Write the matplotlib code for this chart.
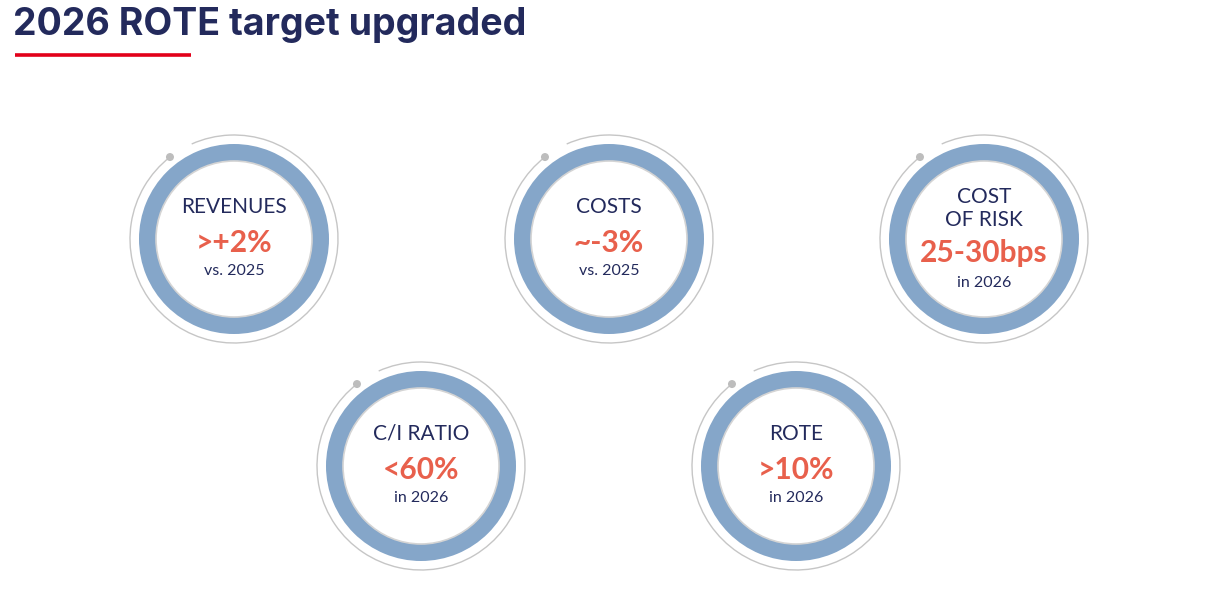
import math

import matplotlib.pyplot as plt
from matplotlib.patches import Arc, Circle, Wedge

W, H = 1211, 598

title = "2026 ROTE target upgraded"
labels = ["REVENUES", "COSTS", "COST\nOF RISK", "C/I RATIO", "ROTE"]
values = [">+2%", "~-3%", "25-30bps", "<60%", ">10%"]
subtitles = ["vs. 2025", "vs. 2025", "in 2026", "in 2026", "in 2026"]

NAVY = "#232a5c"
RED = "#e2001a"
BLUE = "#85a6c9"
ORANGE = "#e8604c"
GREY = "#c6c6c6"

# layout: three circles on top row, two offset on the bottom row
step = 375
row1_x, row1_y = 234, 239
row2_x, row2_y = 421, 466
centers = [(row1_x + i * step, row1_y) for i in range(3)]
centers += [(row2_x + i * step, row2_y) for i in range(2)]

fig = plt.figure(figsize=(W / 100, H / 100), dpi=100)
ax = fig.add_axes([0, 0, 1, 1])
ax.set_xlim(0, W)
ax.set_ylim(H, 0)
ax.set_aspect("equal")
ax.axis("off")

ax.text(13, 25, title, fontsize=27, fontweight="bold", color=NAVY,
        family="Inter", va="center", ha="left")
ax.plot([15, 191], [55, 55], color=RED, lw=2.6, solid_capstyle="butt")


def badge(ax, cx, cy, label, value, sub):
    # thin outer arc, gap at top left between 114 and 128 degrees on screen
    # (y axis is flipped, so screen angles become negative)
    ax.add_patch(Arc((cx, cy), 208, 208, theta1=360 - 114, theta2=720 - 128,
                     color=GREY, lw=1.0))
    ax.add_patch(Wedge((cx, cy), 95, 0, 360, width=17, color=BLUE, lw=0))
    ax.add_patch(Circle((cx, cy), 78, fill=False, ec="#d4d4d4", lw=1.2))
    a = math.radians(128)
    ax.add_patch(Circle((cx + 104 * math.cos(a), cy - 104 * math.sin(a)), 4,
                        color="#bdbdbd", lw=0))

    lines = label.split("\n")
    if len(lines) == 1:
        ys = [cy - 32]
        yv, yt = cy + 4, cy + 32
    else:
        ys = [cy - 42, cy - 19]
        yv, yt = cy + 14, cy + 44
    for y, line in zip(ys, lines):
        ax.text(cx, y, line, ha="center", va="center", fontsize=15,
                color=NAVY, family="Lato")
    ax.text(cx, yv, value, ha="center", va="center", fontsize=21.5,
            fontweight="bold", color=ORANGE, family="Lato")
    ax.text(cx, yt, sub, ha="center", va="center", fontsize=11.5,
            color=NAVY, family="Lato")


for (cx, cy), lab, val, sub in zip(centers, labels, values, subtitles):
    badge(ax, cx, cy, lab, val, sub)

fig.savefig("out.png", dpi=100, facecolor="white")
